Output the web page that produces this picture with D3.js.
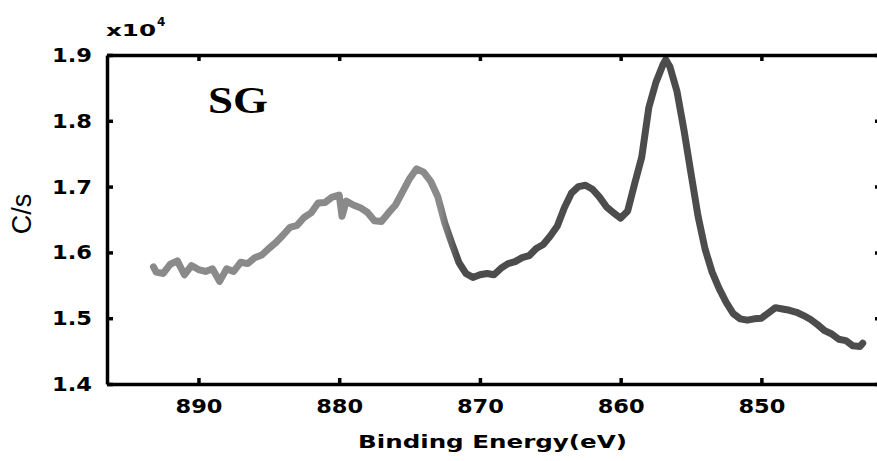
<!DOCTYPE html>
<html>
<head>
<meta charset="utf-8">
<script src="https://cdn.jsdelivr.net/npm/d3@7"></script>
<style>
  body { margin: 0; background: #fff; }
  svg { display: block; }
</style>
</head>
<body>
<div id="chart"></div>
<script>
// Binding energy (eV)
const energy = [
  893.2, 893.0, 892.5, 892.0, 891.5, 891.0, 890.5, 890.0, 889.5, 889.0,
  888.5, 888.0, 887.5, 887.0, 886.5, 886.0, 885.5, 885.0, 884.5, 884.0,
  883.5, 883.0, 882.5, 882.0, 881.5, 881.0, 880.5, 880.0, 879.8, 879.5,
  879.0, 878.5, 878.0, 877.5, 877.0, 876.5, 876.0, 875.5, 875.0, 874.5,
  874.0, 873.5, 873.0, 872.5, 872.0, 871.5, 871.0, 870.5, 870.0, 869.5,
  869.0, 868.5, 868.0, 867.5, 867.0, 866.5, 866.0, 865.5, 865.0, 864.5,
  864.0, 863.5, 863.0, 862.5, 862.0, 861.5, 861.0, 860.5, 860.0, 859.5,
  859.0, 858.5, 858.0, 857.5, 857.0, 856.8, 856.5, 856.0, 855.5, 855.0,
  854.5, 854.0, 853.5, 853.0, 852.5, 852.0, 851.5, 851.0, 850.5, 850.0,
  849.5, 849.0, 848.5, 848.0, 847.5, 847.0, 846.5, 846.0, 845.5, 845.0,
  844.5, 844.0, 843.5, 843.0, 842.8
];
// counts, in units of 1e4 c/s
const counts = [
  1.578, 1.570, 1.568, 1.582, 1.587, 1.566, 1.580, 1.574, 1.571, 1.575,
  1.556, 1.575, 1.571, 1.585, 1.583, 1.592, 1.596, 1.606, 1.615, 1.626,
  1.638, 1.641, 1.653, 1.660, 1.675, 1.676, 1.684, 1.687, 1.655, 1.678,
  1.672, 1.668, 1.661, 1.648, 1.647, 1.660, 1.672, 1.692, 1.712, 1.727,
  1.722, 1.708, 1.685, 1.645, 1.614, 1.585, 1.568, 1.562, 1.566, 1.568,
  1.566, 1.576, 1.583, 1.586, 1.592, 1.595, 1.606, 1.612, 1.625, 1.640,
  1.668, 1.690, 1.700, 1.702, 1.696, 1.684, 1.669, 1.660, 1.652, 1.663,
  1.705, 1.745, 1.820, 1.858, 1.885, 1.893, 1.882, 1.845, 1.786, 1.720,
  1.655, 1.605, 1.570, 1.545, 1.524, 1.507, 1.499, 1.497, 1.499, 1.500,
  1.508, 1.516, 1.514, 1.512, 1.509, 1.504, 1.498, 1.490, 1.481, 1.476,
  1.468, 1.466, 1.458, 1.457, 1.462
];
const xTicks = [890, 880, 870, 860, 850];
const yTicks = [1.4, 1.5, 1.6, 1.7, 1.8, 1.9];

const width = 877;
const height = 461;
const margin = { top: 55, right: -4, bottom: 77, left: 107 };
const labelFont = "'DejaVu Sans', Verdana, sans-serif";

const x = d3.scaleLinear()
    .domain([896.5, 841.5])
    .range([margin.left, width - margin.right]);

const y = d3.scaleLinear()
    .domain([1.4, 1.9])
    .range([height - margin.bottom, margin.top]);

const svg = d3.select("#chart").append("svg")
    .attr("width", width)
    .attr("height", height);

// the trace goes from light grey on the left to dark grey on the right
const grad = svg.append("defs").append("linearGradient")
    .attr("id", "traceColor")
    .attr("gradientUnits", "userSpaceOnUse")
    .attr("x1", x(872.8)).attr("x2", x(871.6))
    .attr("y1", 0).attr("y2", 0);
grad.append("stop").attr("offset", 0).attr("stop-color", "#8a8a8a");
grad.append("stop").attr("offset", 1).attr("stop-color", "#4c4c4c");

const points = energy.map((e, i) => ({ e: e, c: counts[i] }));

const line = d3.line()
    .x(d => x(d.e))
    .y(d => y(d.c));

svg.append("path")
    .datum(points)
    .attr("d", line)
    .attr("fill", "none")
    .attr("stroke", "url(#traceColor)")
    .attr("stroke-width", 7)
    .attr("stroke-linejoin", "round")
    .attr("stroke-linecap", "round");

// axes: ticks point into the box
function styleAxis(g) {
    g.select(".domain").attr("stroke", "#000").attr("stroke-width", 3.5);
    g.selectAll(".tick line").attr("stroke", "#000").attr("stroke-width", 3.5);
    g.selectAll("text")
        .attr("fill", "#000")
        .style("font-family", labelFont)
        .style("font-weight", "bold")
        .style("font-size", "20px")
        .attr("lengthAdjust", "spacingAndGlyphs");
}

svg.append("g")
    .attr("transform", `translate(0,${height - margin.bottom})`)
    .call(d3.axisBottom(x).tickValues(xTicks).tickSizeInner(-6).tickSizeOuter(0).tickPadding(15))
    .call(styleAxis)
    .call(g => g.selectAll("text").attr("textLength", 47));

svg.append("g")
    .attr("transform", `translate(0,${margin.top})`)
    .call(d3.axisTop(x).tickValues(xTicks).tickSizeInner(-6).tickSizeOuter(0).tickFormat(""))
    .call(styleAxis);

svg.append("g")
    .attr("transform", `translate(${margin.left},0)`)
    .call(d3.axisLeft(y).tickValues(yTicks).tickSizeInner(-6).tickSizeOuter(0).tickPadding(15)
        .tickFormat(d3.format(".1f")))
    .call(styleAxis)
    .call(g => g.selectAll("text").attr("textLength", 40));

svg.append("g")
    .attr("transform", `translate(${width - margin.right},0)`)
    .call(d3.axisRight(y).tickValues(yTicks).tickSizeInner(-6).tickSizeOuter(0).tickFormat(""))
    .call(styleAxis);

// exponent label
svg.append("text")
    .attr("x", 106).attr("y", 36)
    .attr("textLength", 50).attr("lengthAdjust", "spacingAndGlyphs")
    .style("font-family", labelFont)
    .style("font-weight", "bold").style("font-size", "16px")
    .text("x10");
svg.append("text")
    .attr("x", 157).attr("y", 26)
    .style("font-family", labelFont)
    .style("font-weight", "bold").style("font-size", "12px")
    .text("4");

// sample tag
svg.append("text")
    .attr("x", 208).attr("y", 113)
    .attr("textLength", 60).attr("lengthAdjust", "spacingAndGlyphs")
    .style("font-family", "'Liberation Serif', 'Times New Roman', serif")
    .style("font-weight", "bold").style("font-size", "38px")
    .text("SG");

// axis titles
svg.append("text")
    .attr("x", 358).attr("y", 448)
    .attr("textLength", 269).attr("lengthAdjust", "spacingAndGlyphs")
    .style("font-family", labelFont)
    .style("font-weight", "bold").style("font-size", "18px")
    .text("Binding Energy(eV)");

svg.append("text")
    .attr("transform", "translate(31,214) rotate(-90)")
    .attr("text-anchor", "middle")
    .style("font-family", "'Liberation Sans', Arial, sans-serif")
    .style("font-size", "27px")
    .text("C/s");
</script>
</body>
</html>
